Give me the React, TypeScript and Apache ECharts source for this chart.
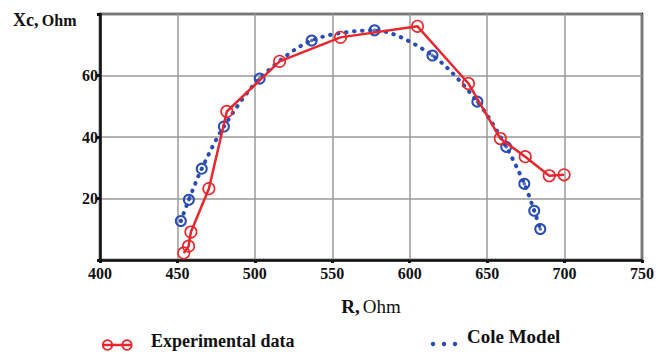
import React, { useEffect, useRef } from "react";
import * as echarts from "echarts";

const expR = [454.1, 457.2, 458.7, 470.3, 481.9, 516, 555.3, 605, 637.9, 658.5, 674.6, 690.1, 699.7];
const expXc = [2.3, 4.5, 9.1, 23.2, 48.3, 64.6, 72.4, 76, 57.4, 39.5, 33.6, 27.4, 27.7];

const coleR = [452.2, 457.4, 465.7, 480, 503.1, 536.7, 577.3, 614.7, 643.7, 662.3, 674, 680.4, 684.3];
const coleXc = [12.7, 19.6, 29.7, 43.4, 59, 71.4, 74.7, 66.5, 51.5, 36.8, 24.8, 16, 10.1];

const xTicks = [400, 450, 500, 550, 600, 650, 700, 750];
const yTicks = [0, 20, 40, 60, 80];
const yLabelsShown = [20, 40, 60];

const RED = "#e8262c";
const BLUE = "#2a4db3";
const SERIF = "Liberation Serif";

export default function App() {
  const ref = useRef<HTMLDivElement>(null);
  useEffect(() => {
    if (!ref.current) return;
    const chart = echarts.init(ref.current, null, { renderer: "svg" });
    const exp = expR.map((r, i) => [r, expXc[i]]);
    const cole = coleR.map((r, i) => [r, coleXc[i]]);
    chart.setOption({
      animation: false,
      backgroundColor: "#fff",
      textStyle: { fontFamily: SERIF },
      grid: {
        left: 100,
        right: 14,
        top: 14,
        bottom: 94,
        show: true,
        borderColor: "#111",
        borderWidth: 2.5,
      },
      xAxis: {
        type: "value",
        min: xTicks[0],
        max: xTicks[xTicks.length - 1],
        interval: 50,
        axisLine: { show: true, lineStyle: { color: "#111", width: 2.5 } },
        axisTick: { show: true, length: 3, inside: false, lineStyle: { color: "#111", width: 3 } },
        splitLine: { show: true, lineStyle: { color: "#9a9a9a", width: 1.5 } },
        axisLabel: {
          color: "#111",
          fontFamily: SERIF,
          fontSize: 16,
          fontWeight: "bold",
          margin: 5,
        },
        name: "{b|R,} {n|Ohm}",
        nameLocation: "middle",
        nameGap: 37,
        nameTextStyle: {
          rich: {
            b: { fontFamily: SERIF, fontSize: 19, fontWeight: "bold", color: "#111" },
            n: { fontFamily: SERIF, fontSize: 19, color: "#111" },
          },
        },
      },
      yAxis: {
        type: "value",
        min: yTicks[0],
        max: yTicks[yTicks.length - 1],
        interval: 20,
        axisLine: { show: true, lineStyle: { color: "#111", width: 2.5 } },
        axisTick: { show: true, length: 3, lineStyle: { color: "#111", width: 3 } },
        splitLine: { show: true, lineStyle: { color: "#9a9a9a", width: 1.5 } },
        axisLabel: {
          color: "#111",
          fontFamily: SERIF,
          fontSize: 16,
          fontWeight: "bold",
          margin: 2,
          formatter: (v: number) => (yLabelsShown.includes(v) ? String(v) : ""),
        },
      },
      series: [
        {
          name: "Cole Model",
          type: "line",
          data: cole,
          smooth: 0.3,
          symbol: "circle",
          symbolSize: 10,
          itemStyle: { color: "transparent", borderColor: BLUE, borderWidth: 2 },
          lineStyle: { color: BLUE, width: 4, type: [0.5, 7.5], cap: "round" },
          z: 2,
        },
        {
          name: "Cole centers",
          type: "scatter",
          data: cole,
          symbol: "circle",
          symbolSize: 3.5,
          itemStyle: { color: BLUE },
          z: 3,
        },
        {
          name: "Experimental data",
          type: "line",
          data: exp,
          symbol: "circle",
          symbolSize: 11.5,
          itemStyle: { color: "transparent", borderColor: RED, borderWidth: 1.6 },
          lineStyle: { color: RED, width: 2.5 },
          z: 4,
        },
      ],
      graphic: [
        {
          type: "text",
          left: 13,
          top: 11,
          style: {
            text: "{b|Xc,} {n|Ohm}",
            rich: {
              b: { fontFamily: SERIF, fontSize: 18, fontWeight: "bold", fill: "#111" },
              n: { fontFamily: SERIF, fontSize: 16, fontWeight: "bold", fill: "#111" },
            },
          },
        },
        // legend: Experimental data
        { type: "line", shape: { x1: 102, y1: 345, x2: 132, y2: 345 }, style: { stroke: RED, lineWidth: 2.5 } },
        { type: "circle", shape: { cx: 107.5, cy: 345, r: 4.8 }, style: { fill: "transparent", stroke: RED, lineWidth: 1.8 } },
        { type: "circle", shape: { cx: 127, cy: 345, r: 4.8 }, style: { fill: "transparent", stroke: RED, lineWidth: 1.8 } },
        {
          type: "text",
          left: 151,
          top: 332,
          style: { text: "Experimental data", fontFamily: SERIF, fontSize: 18, fontWeight: "bold", fill: "#111" },
        },
        // legend: Cole Model
        { type: "circle", shape: { cx: 433, cy: 344, r: 2.2 }, style: { fill: BLUE } },
        { type: "circle", shape: { cx: 444, cy: 344, r: 2.2 }, style: { fill: BLUE } },
        { type: "circle", shape: { cx: 455, cy: 344, r: 2.2 }, style: { fill: BLUE } },
        {
          type: "text",
          left: 467,
          top: 327,
          style: { text: "Cole Model", fontFamily: SERIF, fontSize: 19, fontWeight: "bold", fill: "#111" },
        },
      ],
    });
    return () => chart.dispose();
  }, []);
  return <div ref={ref} style={{ width: 657, height: 354, position: "absolute", left: 0, top: 0 }} />;
}
